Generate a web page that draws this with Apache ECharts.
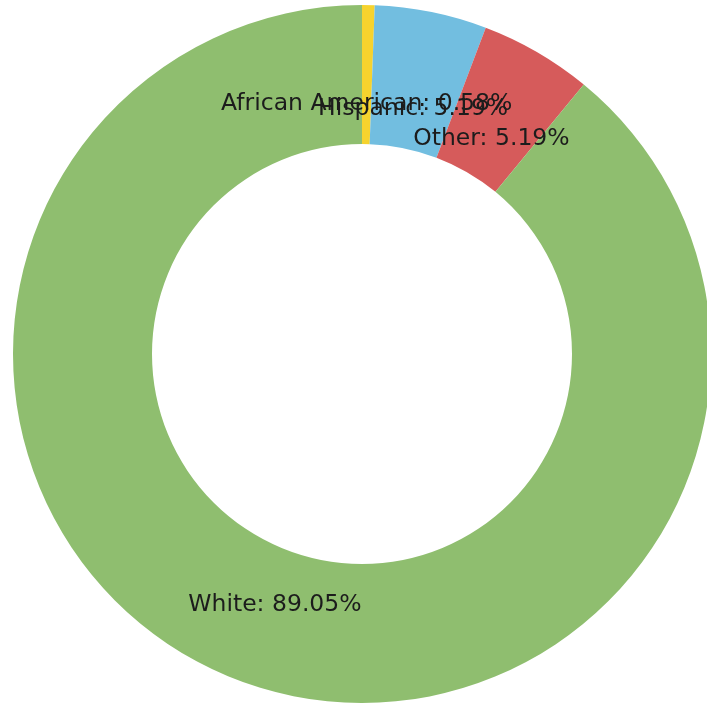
<!DOCTYPE html>
<html>
<head>
<meta charset="utf-8">
<script src="https://cdn.jsdelivr.net/npm/echarts@6/dist/echarts.min.js"></script>
<style>
html,body{margin:0;padding:0;background:#fff;}
#chart{width:707px;height:706px;}
</style>
</head>
<body>
<div id="chart"></div>
<script>
const categories = ['African American', 'Hispanic', 'Other', 'White'];
const values = [0.58, 5.19, 5.19, 89.05];
const colors = ['#f6d32e', '#72bee0', '#d65b5b', '#8fbe6f'];

const data = categories.map((name, i) => ({ name: name, value: values[i] }));

const chart = echarts.init(document.getElementById('chart'), null, { renderer: 'canvas' });
chart.setOption({
  animation: false,
  backgroundColor: '#ffffff',
  color: colors,
  series: [
    {
      type: 'pie',
      center: [362, 354],
      radius: [210, 349],
      startAngle: 90,
      clockwise: true,
      silent: true,
      label: { show: false },
      labelLine: { show: false },
      itemStyle: { borderWidth: 0 },
      data: data
    },
    {
      type: 'pie',
      center: [362, 354],
      radius: [210, 300],
      startAngle: 90,
      clockwise: true,
      silent: true,
      minShowLabelAngle: 0,
      avoidLabelOverlap: false,
      labelLayout: { hideOverlap: false },
      itemStyle: { color: 'rgba(0,0,0,0)', borderWidth: 0 },
      label: {
        show: true,
        position: 'inside',
        formatter: '{b}: {c}%',
        color: '#1c1c1c',
        fontFamily: 'DejaVu Sans',
        fontSize: 23.5,
        offset: [0, 8],
        textBorderWidth: 0
      },
      labelLine: { show: false },
      data: data
    }
  ]
});
</script>
</body>
</html>
